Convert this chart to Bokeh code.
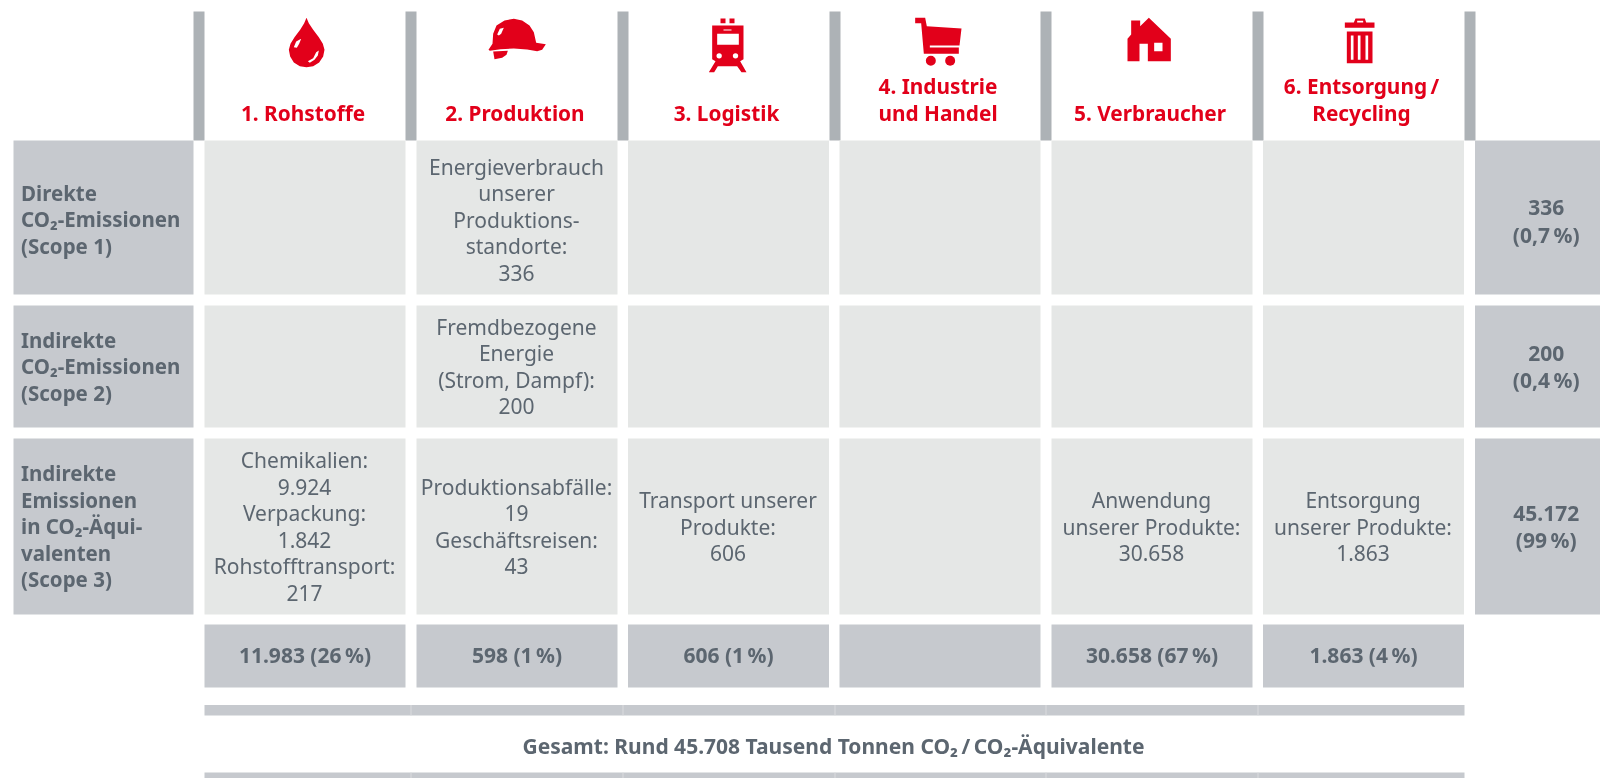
from bokeh.plotting import figure
from bokeh.models import Range1d
from bokeh.core.properties import value
from bokeh.embed import file_html
from bokeh.resources import INLINE

# ---------- content ----------
stages = ["1. Rohstoffe", "2. Produktion", "3. Logistik", "4. Industrie\nund Handel", "5. Verbraucher", "6. Entsorgung\u2009/\nRecycling"]
row_labels = ["Direkte\nCO\u2082-Emissionen\n(Scope 1)", "Indirekte\nCO\u2082-Emissionen\n(Scope 2)",
              "Indirekte\nEmissionen\nin CO\u2082-\u00c4qui-\nvalenten\n(Scope 3)"]
scope1_cells = ["", "Energieverbrauch\nunserer\nProduktions-\nstandorte:\n336", "", "", "", ""]
scope2_cells = ["", "Fremdbezogene\nEnergie\n(Strom, Dampf):\n200", "", "", "", ""]
scope3_cells = ["Chemikalien:\n9.924\nVerpackung:\n1.842\nRohstofftransport:\n217",
                "Produktionsabf\u00e4lle:\n19\nGesch\u00e4ftsreisen:\n43",
                "Transport unserer\nProdukte:\n606", "",
                "Anwendung\nunserer Produkte:\n30.658", "Entsorgung\nunserer Produkte:\n1.863"]
row_totals = ["336\n(0,7\u2009%)", "200\n(0,4\u2009%)", "45.172\n(99\u2009%)"]
column_totals = ["11.983 (26\u2009%)", "598 (1\u2009%)", "606 (1\u2009%)", "", "30.658 (67\u2009%)", "1.863 (4\u2009%)"]
grand_total = "Gesamt: Rund 45.708 Tausend Tonnen CO\u2082\u2009/\u2009CO\u2082-\u00c4quivalente"

# ---------- layout ----------
W, H = 1600, 778
RED, GREY_TXT, CELL, DARK, SEP = "#e2001a", "#5c6670", "#e5e7e6", "#c6c9ce", "#adb2b6"
col_left = [204, 416, 627.5, 839, 1051, 1262.5]
col_w = 201
sep_left = [193, 405, 617, 829, 1040, 1252, 1464]
sep_w = 11
row_top = [140, 305, 438]
row_bot = [294, 427, 614]
row_mid = [219.4, 366, 526]
right_mid = [220.5, 366.3, 526]
LINE = 26.5
BODY_SIZE, HEAD_SIZE = "21px", "20.8px"
FONT = value("Noto Sans")

p = figure(width=W, height=H, x_range=Range1d(0, W), y_range=Range1d(H, 0),
           x_axis_location=None, y_axis_location=None, toolbar_location=None,
           output_backend="svg", min_border=0, outline_line_color=None,
           background_fill_color="white", border_fill_color="white")
p.grid.visible = False
p.styles = {"position": "fixed", "left": "0px", "top": "0px"}


def boxes(l, r, t, b, color):
    p.quad(left=l, right=r, top=t, bottom=b, fill_color=color, line_color=None)


def lines(txt, x, ymid, color=GREY_TXT, bold=False, align="center", size=BODY_SIZE, step=LINE):
    parts = txt.split("\n")
    ys = [ymid + (i - (len(parts) - 1) / 2) * step for i in range(len(parts))]
    p.text(x=[x] * len(parts), y=ys, text=parts, text_color=color, text_font=FONT,
           text_font_size=size, text_font_style="bold" if bold else "normal",
           text_align=align, text_baseline="middle")


# separators in the head
boxes(sep_left, [s + sep_w for s in sep_left], [11] * 7, [140] * 7, SEP)

# row label / total boxes
boxes([13] * 3, [193] * 3, row_top, row_bot, DARK)
boxes([1474.5] * 3, [1600] * 3, row_top, row_bot, DARK)

# body cells
for t, b in zip(row_top, row_bot):
    boxes(col_left, [c + col_w for c in col_left], [t] * 6, [b] * 6, CELL)
# column totals
boxes(col_left, [c + col_w for c in col_left], [624] * 6, [687] * 6, DARK)

# grand total bars
for t, b in ((704.5, 715), (772, 778)):
    boxes([204], [1464], [t], [b], DARK)
    seams = [s + 5.5 for s in sep_left[1:-1]]
    boxes([s - .5 for s in seams], [s + .5 for s in seams], [t] * 5, [b] * 5, "#d9dbde")

# texts
for i, s in enumerate(stages):
    cx = col_left[i] + col_w / 2 - 2
    parts = s.split("\n")
    ys = [112.5] if len(parts) == 1 else [85.5, 112.5]
    p.text(x=[cx] * len(parts), y=ys, text=parts, text_color=RED, text_font=FONT, text_font_size=HEAD_SIZE,
           text_font_style="bold", text_align="center", text_baseline="middle")

for r, lab in enumerate(row_labels):
    lines(lab, 20.5, row_mid[r] - 0.5, bold=True, align="left", size="20.5px")

for r, cells in enumerate((scope1_cells, scope2_cells, scope3_cells)):
    for i, txt in enumerate(cells):
        if txt:
            lines(txt, col_left[i] + col_w / 2 - 0.5, row_mid[r])

for r, txt in enumerate(row_totals):
    lines(txt, 1545.7, right_mid[r], bold=True, step=27)

for i, txt in enumerate(column_totals):
    if txt:
        lines(txt, col_left[i] + col_w / 2, 654.5, bold=True)
lines(grand_total, 833, 745, bold=True)


# ---------- icons (outline points given per 1/3 px inside a 70 px tile) ----------
def shape(x0, pts, color=RED):
    p.patch([x0 + a / 3 for a, _ in pts], [10 + b / 3 for _, b in pts], fill_color=color, line_color=None)


def rect(x0, a, b, c, d, color=RED):
    shape(x0, [(a, b), (c, b), (c, d), (a, d)], color)


def disc(x0, a, b, r, color=RED):
    p.circle(x=[x0 + a / 3], y=[10 + b / 3], radius=r / 3, fill_color=color, line_color=None)


# drop
shape(270, [(108, 22), (115, 38), (128, 58), (145, 80), (157, 100), (162, 118), (158, 138), (146, 156), (128, 167),
            (108, 170), (88, 167), (70, 156), (59, 138), (55, 118), (60, 100), (72, 80), (89, 58), (101, 38)])
shape(270, [(70, 110), (77, 93), (92, 85), (86, 100), (79, 112)], "white")
shape(270, [(112, 152), (128, 143), (137, 125), (145, 120), (142, 135), (132, 148), (118, 157)], "white")
# helmet
shape(480, [(24, 118), (36, 100), (38, 70), (48, 45), (72, 30), (100, 25), (125, 30), (147, 45), (160, 65), (167, 97),
            (196, 101), (185, 118), (170, 122), (140, 117), (100, 114), (60, 116), (28, 121)])
shape(480, [(50, 72), (58, 55), (70, 52), (62, 70), (55, 75)], "white")
shape(480, [(38, 123), (82, 121), (78, 133), (65, 142), (42, 146)])
# train
rect(695, 75, 24, 90, 38)
rect(695, 102, 24, 117, 38)
shape(695, [(50, 45), (144, 45), (144, 146), (134, 152), (153, 185), (138, 185), (125, 167), (67, 167), (56, 185),
            (40, 185), (60, 152), (50, 146)])
rect(695, 65, 70, 130, 103, "white")
rect(695, 84, 57, 108, 60, "white")
disc(695, 71, 136, 8, "white")
disc(695, 120, 136, 8, "white")
# cart
shape(900, [(44, 22), (74, 22), (79, 47), (183, 54), (177, 105), (88, 105), (88, 111), (175, 111), (175, 130), (70, 130),
            (62, 38), (44, 38)])
disc(900, 91, 151, 15)
disc(900, 149, 151, 15)
# house
shape(1115, [(47, 30), (74, 30), (74, 47), (100, 22), (166, 85), (166, 152), (97, 152), (97, 100), (72, 100), (72, 152),
             (36, 152), (36, 85), (47, 72)])
rect(1115, 116, 97, 141, 122, "white")
# bin
shape(1325, [(85, 36), (90, 24), (118, 24), (122, 36), (147, 36), (147, 52), (58, 52), (58, 36)])
rect(1325, 95, 31, 113, 36, "white")
rect(1325, 64, 63, 141, 158)
for a in (76, 97, 120):
    rect(1325, a, 75, a + 8, 148, "white")

open("out.html", "w").write(file_html(p, INLINE))
